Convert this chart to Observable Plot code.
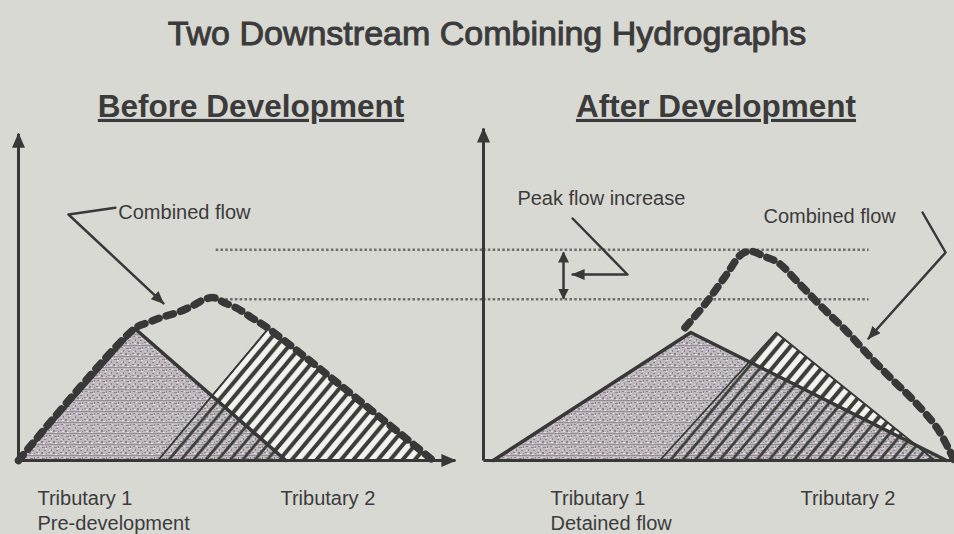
<!DOCTYPE html>
<html>
<head>
<meta charset="utf-8">
<script src="https://cdn.jsdelivr.net/npm/d3@7"></script>
<script src="https://cdn.jsdelivr.net/npm/@observablehq/plot@0.6"></script>
<style>
  html, body { margin: 0; padding: 0; background: #d9d9d4; }
  #wrap { width: 954px; height: 534px; overflow: hidden; background: #d9d9d4;
          font-family: "Liberation Sans", Arial, sans-serif; color: #3b3b3b; }
  #title { box-sizing: border-box; height: 60px; padding: 16px 0 0 20px; width: 954px;
           font-size: 34px; line-height: 34px; text-align: center;
           -webkit-text-stroke: 1px #3b3b3b; }
  g[font-weight="bold"] text { text-decoration: underline; text-decoration-thickness: 3px; text-underline-offset: 6px; }
</style>
</head>
<body>
<svg width="0" height="0" style="position:absolute">
  <defs>
    <pattern id="stipple" patternUnits="userSpaceOnUse" width="12" height="11">
      <rect width="12" height="11" fill="#bfb9bf"/>
      <path d="M1 1h2v1H1z M6 2h3v1H6z M3 4h1v2H3z M8 5h2v1H8z M0 7h2v1H0z M5 7h2v2H5z M10 8h1v1h-1z M10 1h1v2h-1z" fill="#8a848b"/>
      <path d="M4 1h1v1H4z M9 3h2v1H9z M1 5h1v1H1z M7 9h2v1H7z M2 8h2v1H2z" fill="#e4e0e4"/>
      <rect y="10" width="12" height="1" fill="#948e94"/>
    </pattern>
    <pattern id="hatchWide" patternUnits="userSpaceOnUse" width="12.3" height="14.66">
      <rect width="12.3" height="14.66" fill="#f3f3f0"/>
      <path d="M-24.6,29.32L12.3,-14.66M-12.3,29.32L24.6,-14.66M0,29.32L36.9,-14.66" stroke="#2e2e2e" stroke-width="3.8"/>
    </pattern>
    <pattern id="hatchThin" patternUnits="userSpaceOnUse" width="12.3" height="14.66">
      <path d="M-24.6,29.32L12.3,-14.66M-12.3,29.32L24.6,-14.66M0,29.32L36.9,-14.66" stroke="#3c3e38" stroke-width="2.8"/>
    </pattern>
  </defs>
</svg>
<div id="wrap"><div id="title">Two Downstream Combining Hydrographs</div></div>
<script>
// ---------- data (time in hours, flow in arbitrary units) ----------
const panels = ["Before Development", "After Development"];

// Before development
const trib1BeforeT = [0, 6, 13.8];
const trib1BeforeQ = [0, 33, 0];
const trib2BeforeT = [7.2, 12.9, 21.4];
const trib2BeforeQ = [0, 33, 0];
const combinedBeforeT = [0, 6, 6.7, 7.4, 8.2, 9.0, 9.6, 10.1, 10.6, 11.3, 12.0, 12.9, 21.4];
const combinedBeforeQ = [0, 33, 34.5, 35.8, 37, 38.7, 40.3, 40.7, 39.5, 38, 35.8, 33, 0];

// After development
const trib1AfterT = [0.5, 10.7, 23.9];
const trib1AfterQ = [0, 32, 0];
const trib2AfterT = [9.1, 15.1, 23.3];
const trib2AfterQ = [0, 32, 0];
const combinedAfterT = [10.4, 11.5, 12.5, 13.3, 13.8, 14.5, 15.2, 16.3, 17.5, 18.7, 19.8, 21.0, 22.2, 23.4, 24.0, 24.3];
const combinedAfterQ = [33.2, 39.5, 46.2, 51.5, 52.3, 51, 49.5, 44.2, 38.2, 32.5, 26.7, 20.7, 15, 8.2, 3, 0];

// peak levels (dotted guide lines) and their extent
const peakLevels = [40.3, 52.7];
const guideStartBefore = 10.2;
const guideEndAfter = 19.9;

// axis extents
const axisEnd = {yBefore: 81.7, xBefore: 22.55, yAfter: 83, xAfter: 24.4};

// annotation texts
const noteTexts = ["Combined flow", "Peak flow increase", "Combined flow"];
const notePanels = [panels[0], panels[1], panels[1]];
const noteT = [5.15, 1.75, 14.45];
const noteQ = [62, 65.5, 61];

// leader lines (polyline vertices)
const leaderLeftT = [5.0, 2.58, 7.48];
const leaderLeftQ = [63.2, 61.5, 39.3];
const leaderPeakT = [4.6, 7.43, 4.6];
const leaderPeakQ = [60.5, 46.5, 46.5];
const leaderRightT = [22.66, 23.85, 19.87];
const leaderRightQ = [62, 52, 30.5];
const peakIncreaseT = 4.13;
const peakIncreaseQ = [52, 40.5];

// bottom labels
const tribLabels = ["Tributary 1\nPre-development", "Tributary 2", "Tributary 1\nDetained flow", "Tributary 2"];
const tribLabelPanels = [panels[0], panels[0], panels[1], panels[1]];
const tribLabelT = [0.98, 13.52, 3.46, 16.36];

// ---------- build tables ----------
const rows = (panel, T, Q) => T.map((t, i) => ({panel, t, q: Q[i]}));
const trib1 = [...rows(panels[0], trib1BeforeT, trib1BeforeQ), ...rows(panels[1], trib1AfterT, trib1AfterQ)];
const trib2 = [...rows(panels[0], trib2BeforeT, trib2BeforeQ), ...rows(panels[1], trib2AfterT, trib2AfterQ)];
const combinedBefore = rows(panels[0], combinedBeforeT, combinedBeforeQ);
const combinedAfter = rows(panels[1], combinedAfterT, combinedAfterQ);
const guides = peakLevels.flatMap(q => [
  {panel: panels[0], q, t1: guideStartBefore, t2: 24},
  {panel: panels[1], q, t1: 0, t2: guideEndAfter}
]);
const axesHead = [
  {panel: panels[0], x1: 0, y1: 0, x2: 0, y2: axisEnd.yBefore},
  {panel: panels[0], x1: 0, y1: 0, x2: axisEnd.xBefore, y2: 0},
  {panel: panels[1], x1: 0, y1: 0, x2: 0, y2: axisEnd.yAfter}
];
const axesPlain = [{panel: panels[1], x1: 0, y1: 0, x2: axisEnd.xAfter, y2: 0}];
const notes = noteTexts.map((text, i) => ({panel: notePanels[i], t: noteT[i], q: noteQ[i], text}));
const leaders = [
  ...rows(panels[0], leaderLeftT, leaderLeftQ).map(d => ({...d, id: "a"})),
  ...rows(panels[1], leaderPeakT, leaderPeakQ).map(d => ({...d, id: "b"})),
  ...rows(panels[1], leaderRightT, leaderRightQ).map(d => ({...d, id: "c"}))
];
const peakArrow = [{panel: panels[1], t: peakIncreaseT, q1: peakIncreaseQ[0], q2: peakIncreaseQ[1]}];
const labels = tribLabels.map((text, i) => ({panel: tribLabelPanels[i], t: tribLabelT[i], text}));
const headings = panels.map(panel => ({panel}));

// filled arrowhead marker
const NS = "http://www.w3.org/2000/svg";
function solidHead(len, half) {
  return (color) => {
    const m = document.createElementNS(NS, "marker");
    m.setAttribute("viewBox", `0 ${-half} ${len} ${2 * half}`);
    m.setAttribute("markerUnits", "userSpaceOnUse");
    m.setAttribute("markerWidth", len);
    m.setAttribute("markerHeight", 2 * half);
    m.setAttribute("refX", len - 1);
    m.setAttribute("refY", 0);
    m.setAttribute("orient", "auto-start-reverse");
    const p = document.createElementNS(NS, "path");
    p.setAttribute("d", `M0,${-half}L${len},0L0,${half}Z`);
    p.setAttribute("fill", color);
    p.setAttribute("stroke", "none");
    m.appendChild(p);
    return m;
  };
}

const ink = "#383838";
const chart = Plot.plot({
  width: 954,
  height: 474,
  marginLeft: 18,
  marginRight: 6,
  marginTop: 0,
  marginBottom: 74,
  style: {background: "#d9d9d4", fontFamily: "'Liberation Sans', Arial, sans-serif", color: "#3b3b3b", overflow: "visible"},
  fx: {domain: panels, axis: null, paddingInner: 0, paddingOuter: 0},
  x: {domain: [0, 24], axis: null},
  y: {domain: [0, 100], axis: null},
  marks: [
    Plot.ruleY(guides, {fx: "panel", y: "q", x1: "t1", x2: "t2", stroke: "#6f6f6f", strokeWidth: 2.5, strokeDasharray: "2.6,2.2"}),
    Plot.areaY(trib2, {fx: "panel", x: "t", y: "q", fill: "url(#hatchWide)"}),
    Plot.areaY(trib1, {fx: "panel", x: "t", y: "q", fill: "url(#stipple)"}),
    Plot.areaY(trib2, {fx: "panel", x: "t", y: "q", fill: "url(#hatchThin)"}),
    Plot.line(trib2, {fx: "panel", x: "t", y: "q", stroke: ink, strokeWidth: 1.8}),
    Plot.line(trib1, {fx: "panel", x: "t", y: "q", stroke: ink, strokeWidth: 3.5}),
    Plot.link(axesHead, {fx: "panel", x1: "x1", y1: "y1", x2: "x2", y2: "y2", stroke: ink, strokeWidth: 3, markerEnd: solidHead(15, 6.5)}),
    Plot.link(axesPlain, {fx: "panel", x1: "x1", y1: "y1", x2: "x2", y2: "y2", stroke: ink, strokeWidth: 3}),
    Plot.line(combinedBefore, {fx: "panel", x: "t", y: "q", stroke: ink, strokeWidth: 7.5, strokeDasharray: "7.5,7.5", curve: "catmull-rom"}),
    Plot.line(combinedAfter, {fx: "panel", x: "t", y: "q", stroke: ink, strokeWidth: 7.5, strokeDasharray: "7.5,7.5", curve: "catmull-rom"}),
    Plot.line(leaders, {fx: "panel", x: "t", y: "q", z: "id", stroke: ink, strokeWidth: 2.5, markerEnd: solidHead(13, 5.5)}),
    Plot.link(peakArrow, {fx: "panel", x1: "t", x2: "t", y1: "q1", y2: "q2", stroke: ink, strokeWidth: 2.5, markerStart: solidHead(11, 5.5), markerEnd: solidHead(11, 5.5)}),
    Plot.text(notes, {fx: "panel", x: "t", y: "q", text: "text", textAnchor: "start", fontSize: 20, fill: "#3b3b3b"}),
    Plot.text(labels, {fx: "panel", x: "t", y: 0, dy: 27, text: "text", textAnchor: "start", lineAnchor: "top", lineHeight: 1.25, fontSize: 20, fill: "#3b3b3b"}),
    Plot.text(headings, {fx: "panel", text: "panel", frameAnchor: "top", dy: 34, lineAnchor: "top", fontSize: 31.5, fontWeight: "bold", fill: "#3b3b3b"})
  ]
});
document.getElementById("wrap").appendChild(chart);
</script>
</body>
</html>
